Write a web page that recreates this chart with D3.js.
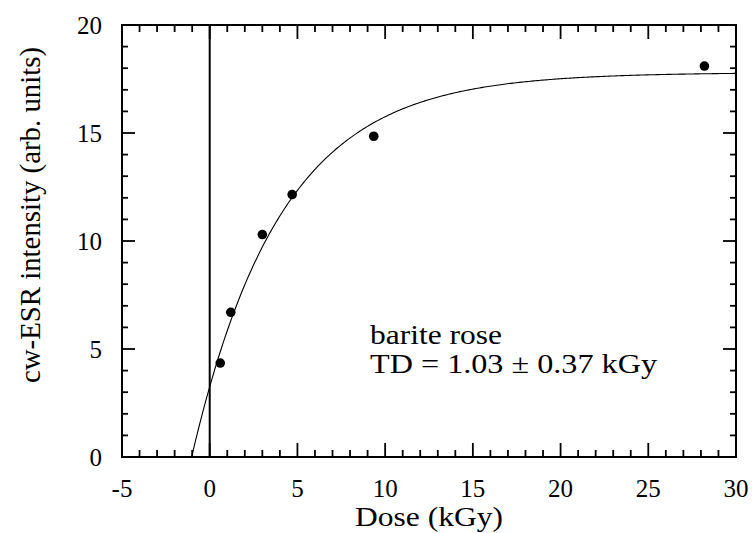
<!DOCTYPE html>
<html>
<head>
<meta charset="utf-8">
<script src="https://cdn.jsdelivr.net/npm/d3@7"></script>
<style>
  html, body { margin: 0; padding: 0; background: #fff; }
  svg { display: block; }
  text { font-family: "Liberation Serif", "DejaVu Serif", serif; fill: #000; }
</style>
</head>
<body>
<svg id="chart" width="753" height="533"></svg>
<script>
// Measured cw-ESR intensities vs. irradiation dose
const doses = [0.6, 1.2, 3.0, 4.7, 9.35, 28.2];          // kGy
const intensities = [4.35, 6.7, 10.3, 12.15, 14.85, 18.1]; // arb. units

// Saturating-exponential fit: I(D) = Imax * (1 - exp(-(D + TD) / D0))
const fitTD = 1.03;    // kGy
const fitTDerr = 0.37; // kGy
const fitImax = 17.8;
const fitD0 = 5.1;     // kGy

const xTicks = [-5, 0, 5, 10, 15, 20, 25, 30];
const yTicks = [0, 5, 10, 15, 20];
const xMinor = d3.range(-5, 30.5, 1);
const yMinor = d3.range(0, 20.5, 1);

const svg = d3.select("#chart");
const x = d3.scaleLinear().domain([-5, 30]).range([122, 736]);
const y = d3.scaleLinear().domain([0, 20]).range([457, 25]);

const plotLeft = x.range()[0], plotRight = x.range()[1];
const plotTop = y.range()[1], plotBottom = y.range()[0];

const majorLen = 14, minorLen = 7;

// ticks on all four sides, pointing inward
const tickG = svg.append("g").attr("stroke", "#000").attr("stroke-width", 1.8);
xMinor.forEach(v => {
  const len = xTicks.includes(v) ? majorLen : minorLen;
  tickG.append("line").attr("x1", x(v)).attr("x2", x(v)).attr("y1", plotBottom).attr("y2", plotBottom - len);
  tickG.append("line").attr("x1", x(v)).attr("x2", x(v)).attr("y1", plotTop).attr("y2", plotTop + len);
});
yMinor.forEach(v => {
  const len = yTicks.includes(v) ? majorLen - 1 : minorLen - 1;
  tickG.append("line").attr("y1", y(v)).attr("y2", y(v)).attr("x1", plotLeft).attr("x2", plotLeft + len);
  tickG.append("line").attr("y1", y(v)).attr("y2", y(v)).attr("x1", plotRight).attr("x2", plotRight - len);
});

// tick labels
svg.append("g").selectAll("text").data(xTicks).join("text")
  .attr("x", d => x(d)).attr("y", 497)
  .attr("text-anchor", "middle").attr("font-size", 25)
  .text(d => d);
svg.append("g").selectAll("text").data(yTicks).join("text")
  .attr("x", 102).attr("y", d => y(d) + 8.5)
  .attr("text-anchor", "end").attr("font-size", 25)
  .text(d => d);

// zero-dose reference line
svg.append("line")
  .attr("x1", x(0)).attr("x2", x(0)).attr("y1", plotTop).attr("y2", plotBottom)
  .attr("stroke", "#000").attr("stroke-width", 2);

// fitted curve, clipped to the plot frame
svg.append("clipPath").attr("id", "plotClip").append("rect")
  .attr("x", plotLeft).attr("y", plotTop).attr("width", plotRight - plotLeft).attr("height", plotBottom - plotTop);
const fitPts = d3.range(-fitTD, 30.001, 0.1).map(d => [d, fitImax * (1 - Math.exp(-(d + fitTD) / fitD0))]);
svg.append("path")
  .attr("clip-path", "url(#plotClip)")
  .attr("d", d3.line().x(d => x(d[0])).y(d => y(d[1]))(fitPts))
  .attr("fill", "none").attr("stroke", "#000").attr("stroke-width", 1.1);

// data points
svg.append("g").selectAll("circle").data(doses).join("circle")
  .attr("cx", d => x(d)).attr("cy", (d, i) => y(intensities[i]))
  .attr("r", 4.8).attr("fill", "#000");

// frame
svg.append("rect")
  .attr("x", plotLeft).attr("y", plotTop).attr("width", plotRight - plotLeft).attr("height", plotBottom - plotTop)
  .attr("fill", "none").attr("stroke", "#000").attr("stroke-width", 2);

// annotation
svg.append("text").attr("x", 370).attr("y", 344).attr("font-size", 27)
  .attr("textLength", 132).attr("lengthAdjust", "spacingAndGlyphs")
  .text("barite rose");
svg.append("text").attr("x", 370).attr("y", 373).attr("font-size", 27)
  .attr("textLength", 287).attr("lengthAdjust", "spacingAndGlyphs")
  .text(`TD = ${fitTD.toFixed(2)} \u00B1 ${fitTDerr.toFixed(2)} kGy`);

// axis titles
svg.append("text").attr("x", 355).attr("y", 526)
  .attr("font-size", 28).attr("textLength", 148).attr("lengthAdjust", "spacingAndGlyphs")
  .text("Dose (kGy)");
svg.append("text").attr("transform", "translate(40,383) rotate(-90)")
  .attr("font-size", 29).attr("textLength", 336).attr("lengthAdjust", "spacingAndGlyphs")
  .text("cw-ESR intensity (arb. units)");
</script>
</body>
</html>
